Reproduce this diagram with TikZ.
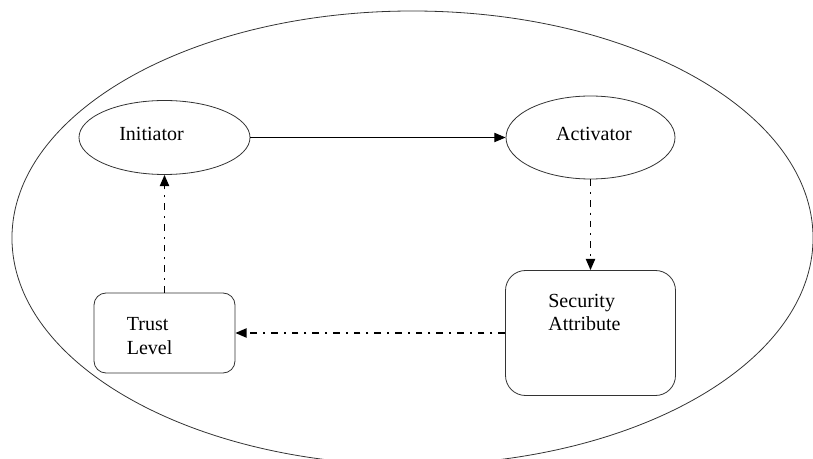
\documentclass[tikz,border=0pt]{standalone}
\usepackage{fontspec}
\setmainfont{Liberation Serif}
\newfontfamily\timesfont{Liberation Serif}
\usetikzlibrary{shapes, arrows.meta, positioning}

\begin{document}
\begin{tikzpicture}[x=0.75pt,y=-0.75pt]
        \useasboundingbox (0,0) rectangle (813,459);
        \begin{scope}
          \clip (0,0) rectangle (813,459);
          \draw[black!80,line width=0.6pt] (412.5,238) ellipse [x radius=300.4pt, y radius=170.25pt];
        \end{scope}
        \begin{scope}[every node/.style={draw=black!80,line width=0.6pt,inner sep=0pt}]
          \node[ellipse,minimum width=128.25pt,minimum height=55.5pt] (ini) at (164.5,137.5) {};
          \node[ellipse,minimum width=126.75pt,minimum height=62.25pt] (act) at (590.5,137.5) {};
          \node[rectangle,rounded corners=9pt,minimum width=105.75pt,minimum height=60pt] (trust) at (164.5,333) {};
          \node[rectangle,rounded corners=15pt,minimum width=127.5pt,minimum height=93.75pt] (sec) at (590.5,333) {};
        \end{scope}
        \begin{scope}[every node/.style={inner sep=0pt,align=left,font=\timesfont\fontsize{15}{17.5}\selectfont}]
          \node (initxt) at ([shift={(-13,-4)}]ini) {Initiator};
          \node (acttxt) at ([shift={(3.5,-4)}]act) {Activator};
          \node[anchor=west] (trusttxt) at ([shift={(33,3)}]trust.west) {Trust\\Level};
          \node[anchor=west] (sectxt) at ([shift={(43,-20.5)}]sec.west) {Security\\Attribute};
        \end{scope}
        \begin{scope}[>={Triangle[length=8.5pt,width=7pt]},
                      every edge/.style={draw=black,->,line width=1.2pt,dash pattern=on 5pt off 4.5pt on 1.5pt off 4.5pt}]
          \path (ini) edge[solid,line width=0.75pt] (act);
          \path (act) edge (sec);
          \path (sec) edge (trust);
          \path (trust) edge (ini);
        \end{scope}
      \end{tikzpicture}
\end{document}
